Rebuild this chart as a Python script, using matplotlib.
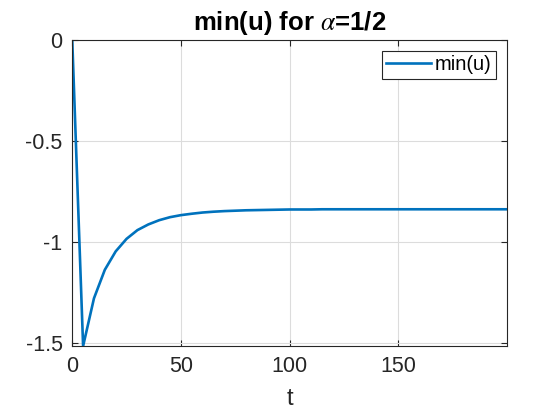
import numpy as np
import matplotlib
matplotlib.use('Agg')
import matplotlib.pyplot as plt

# min(u) sampled every 5 time units
t = np.arange(0, 205, 5)
min_u = [0.0, -1.513, -1.277, -1.136, -1.045, -0.983, -0.940, -0.912, -0.891,
         -0.876, -0.866, -0.859, -0.853, -0.849, -0.846, -0.844, -0.842,
         -0.841, -0.840, -0.839, -0.838, -0.838, -0.838, -0.837, -0.837,
         -0.837, -0.837, -0.837, -0.837, -0.837, -0.837, -0.837, -0.837,
         -0.837, -0.837, -0.837, -0.837, -0.837, -0.837, -0.837, -0.837]

xticks = [0, 50, 100, 150]
yticks = [0, -0.5, -1, -1.5]
ytick_labels = ['0', '-0.5', '-1', '-1.5']

plt.rcParams['font.family'] = ['Liberation Sans', 'DejaVu Sans']
plt.rcParams['mathtext.fontset'] = 'stix'

fig = plt.figure(figsize=(5.6, 4.2), dpi=100)
ax = fig.add_axes([0.129, 0.176, 0.776, 0.729])

ax.plot(t, min_u, color='#0072BD', lw=1.9, label='min(u)')

ax.set_xlim(0, 200)
ax.set_ylim(min(min_u), 0)
ax.set_xticks(xticks)
ax.set_yticks(yticks)
ax.set_yticklabels(ytick_labels)
ax.tick_params(direction='in', labelsize=15.5, colors='#262626', length=4,
               top=True, right=True, pad=7)
ax.grid(True, color='#dcdcdc', lw=0.8)
ax.set_axisbelow(True)
for s in ax.spines.values():
    s.set_color('#262626')
    s.set_linewidth(0.8)

ax.set_xlabel('t', fontsize=17, color='#262626', labelpad=8)
ax.set_title(r'min(u) for $\alpha$=1/2', fontsize=18.5, fontweight='bold', pad=7)

leg = ax.legend(loc='upper right', fontsize=14.5, fancybox=False, framealpha=1,
                edgecolor='#262626', handlelength=2.2, borderpad=0.22,
                handletextpad=0.2, borderaxespad=0.55)
leg.get_frame().set_linewidth(0.8)

fig.savefig('out.png', dpi=100)
